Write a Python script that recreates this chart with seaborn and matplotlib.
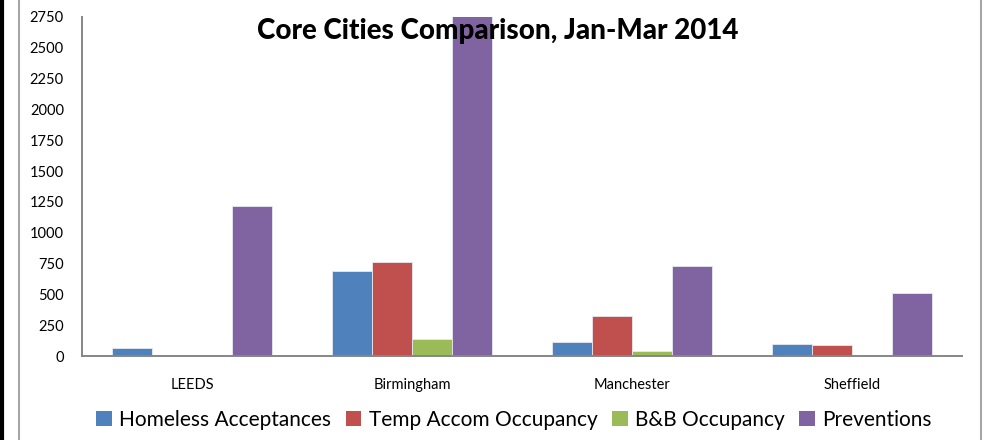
import matplotlib
matplotlib.use('Agg')
import matplotlib.pyplot as plt
import matplotlib.patches as mpatches
import pandas as pd
import seaborn as sns

# values
cities = ['LEEDS', 'Birmingham', 'Manchester', 'Sheffield']
series = ['Homeless Acceptances', 'Temp Accom Occupancy', 'B&B Occupancy', 'Preventions']
homeless = [63, 692, 116, 97]
temp_accom = [10, 764, 326, 88]
bnb = [0, 141, 41, 0]
preventions = [1218, 2800, 733, 515]
yticks = list(range(0, 2751, 250))

colors = ['#4F81BD', '#C0504D', '#9BBB59', '#8064A2']

rows = []
for name, vals in zip(series, [homeless, temp_accom, bnb, preventions]):
    for c, v in zip(cities, vals):
        rows.append({'city': c, 'series': name, 'value': v})
df = pd.DataFrame(rows)

sns.set_theme(style='white')
plt.rcParams['font.family'] = ['Lato', 'DejaVu Sans']
plt.rcParams['text.color'] = 'black'
plt.rcParams['xtick.labelcolor'] = 'black'
plt.rcParams['ytick.labelcolor'] = 'black'

fig = plt.figure(figsize=(9.92, 4.4), dpi=100)
ax = fig.add_axes([82 / 992, 1 - 356 / 440, 880 / 992, 339 / 440])

sns.barplot(data=df, x='city', y='value', hue='series', order=cities, hue_order=series,
            palette=colors, width=0.727, saturation=1, ax=ax, legend=False,
            edgecolor='#e8e8f0', linewidth=0.6)

ax.set_xlim(-0.5, 3.5)
ax.set_ylim(0, 2750)
ax.set_yticks(yticks)
ax.set_yticklabels([str(t) for t in yticks], fontsize=10.5)
ax.set_xticks(range(len(cities)))
ax.set_xticklabels(cities, fontsize=10.5)
ax.set_xticks([-0.5, 0.5, 1.5, 2.5, 3.5], minor=True)
ax.tick_params(axis='x', which='major', length=0, pad=16)
ax.tick_params(axis='x', which='minor', length=5, width=1.2, color='#868686', direction='out')
ax.tick_params(axis='y', length=5, width=1.2, color='#868686', direction='out', pad=8)
ax.set_xlabel('')
ax.set_ylabel('')
for side in ['top', 'right']:
    ax.spines[side].set_visible(False)
for side in ['left', 'bottom']:
    ax.spines[side].set_color('#868686')
    ax.spines[side].set_linewidth(1.4)
ax.spines['bottom'].set_zorder(5)

fig.text(0.502, 1 - 31 / 440, 'Core Cities Comparison, Jan-Mar 2014', ha='center', va='center',
         fontsize=20, fontweight='black', color='black', zorder=10)

handles = [mpatches.Patch(facecolor=c, edgecolor='none') for c in colors]
fig.legend(handles, series, loc='center', bbox_to_anchor=(0.518, 1 - 420 / 440), ncol=4,
           frameon=False, fontsize=15, handlelength=0.75, handleheight=0.75,
           handletextpad=0.35, columnspacing=0.7, borderaxespad=0)

# chart frame and left edge strip
fig.add_artist(plt.Line2D([19 / 992, 19 / 992], [0, 1], color='#a6a6a6', lw=1.5))
fig.add_artist(plt.Line2D([981 / 992, 981 / 992], [0, 1], color='#a6a6a6', lw=1.5))
fig.add_artist(plt.Line2D([1.5 / 992, 1.5 / 992], [0, 1], color='black', lw=3))

fig.savefig('out.png', dpi=100)
